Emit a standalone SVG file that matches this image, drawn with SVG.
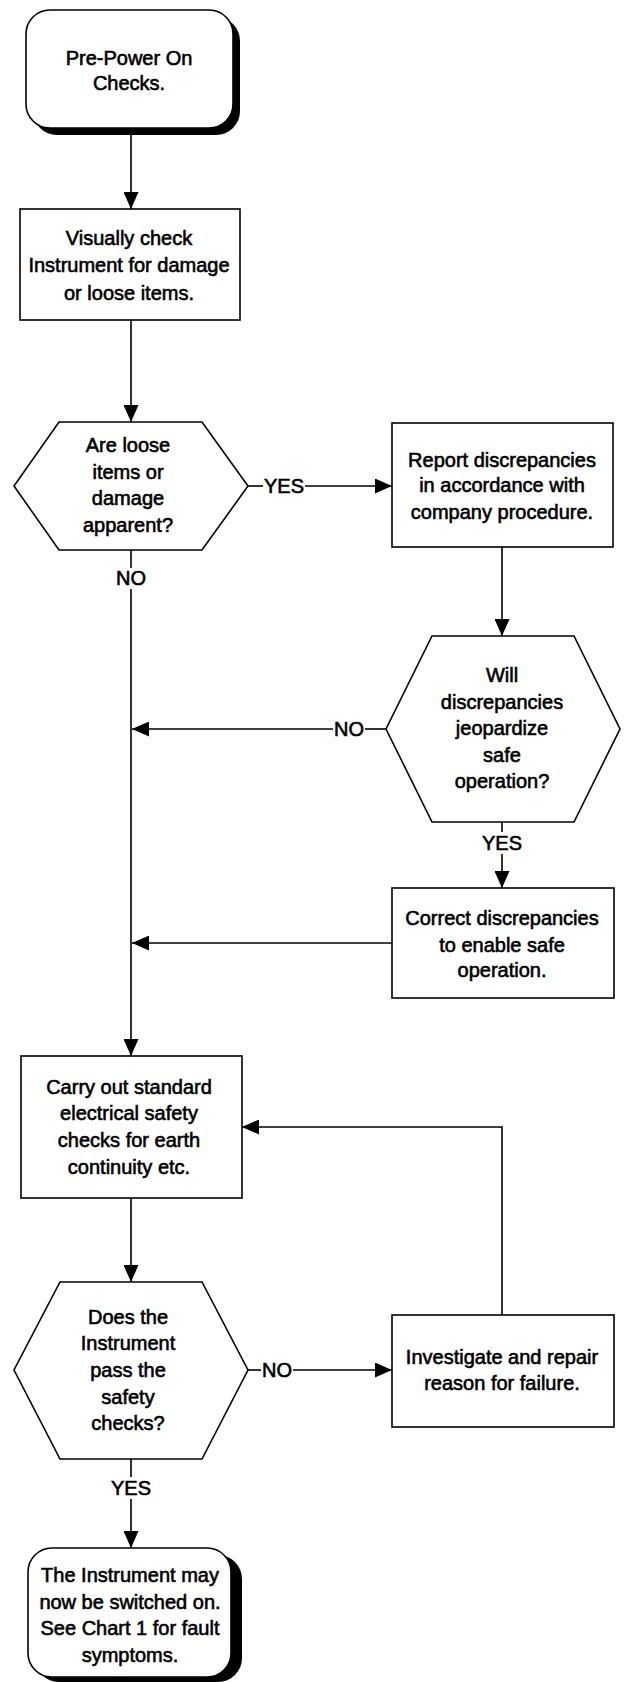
<svg xmlns="http://www.w3.org/2000/svg" width="625" height="1682" viewBox="0 0 625 1682">
<defs>
<style>
.shape{fill:#fff;stroke:#000;stroke-width:1.6}
.shadow{fill:#000}
.t{font-family:"Liberation Sans",Arial,Helvetica,sans-serif;font-size:20px;fill:#000;text-anchor:middle;stroke:#000;stroke-width:0.6}
.c{fill:none;stroke:#000;stroke-width:1.6}
</style>
<marker id="ah" viewBox="0 0 17 15" refX="17" refY="7.5" markerWidth="17" markerHeight="15" markerUnits="userSpaceOnUse" orient="auto">
<path d="M0,0 L17,7.5 L0,15 Z" fill="#000"/>
</marker>
</defs>
<rect width="625" height="1682" fill="#fff"/>

<g id="start">
<rect class="shadow" x="33" y="17" width="207" height="118" rx="24"/>
<rect class="shape" x="26" y="10" width="207" height="118" rx="24"/>
<text class="t" x="129" y="65">Pre-Power On</text>
<text class="t" x="129" y="90">Checks.</text>
</g>

<g id="visual-check">
<rect class="shape" x="20" y="209" width="220" height="111"/>
<text class="t" x="129" y="245">Visually check</text>
<text class="t" x="129" y="272">Instrument for damage</text>
<text class="t" x="129" y="300">or loose items.</text>
</g>

<g id="decision-loose">
<polygon class="shape" points="59,422 202,422 248,486 202,550 59,550 14,486"/>
<text class="t" x="128" y="452">Are loose</text>
<text class="t" x="128" y="479">items or</text>
<text class="t" x="128" y="505">damage</text>
<text class="t" x="128" y="532">apparent?</text>
</g>

<g id="report">
<rect class="shape" x="392" y="423" width="221" height="124"/>
<text class="t" x="502" y="467">Report discrepancies</text>
<text class="t" x="502" y="492">in accordance with</text>
<text class="t" x="502" y="519">company procedure.</text>
</g>

<g id="decision-jeopardize">
<polygon class="shape" points="432,636 574,636 620,729 574,822 432,822 386,729"/>
<text class="t" x="502" y="682">Will</text>
<text class="t" x="502" y="709">discrepancies</text>
<text class="t" x="502" y="735">jeopardize</text>
<text class="t" x="502" y="762">safe</text>
<text class="t" x="502" y="788">operation?</text>
</g>

<g id="correct">
<rect class="shape" x="392" y="888" width="222" height="110"/>
<text class="t" x="502" y="925">Correct discrepancies</text>
<text class="t" x="502" y="952">to enable safe</text>
<text class="t" x="502" y="977">operation.</text>
</g>

<g id="safety-checks">
<rect class="shape" x="21" y="1056" width="221" height="142"/>
<text class="t" x="129" y="1094">Carry out standard</text>
<text class="t" x="129" y="1120">electrical safety</text>
<text class="t" x="129" y="1147">checks for earth</text>
<text class="t" x="129" y="1174">continuity etc.</text>
</g>

<g id="decision-pass">
<polygon class="shape" points="60,1282 202,1282 248,1370 202,1459 60,1459 14,1370"/>
<text class="t" x="128" y="1324">Does the</text>
<text class="t" x="128" y="1350">Instrument</text>
<text class="t" x="128" y="1377">pass the</text>
<text class="t" x="128" y="1404">safety</text>
<text class="t" x="128" y="1430">checks?</text>
</g>

<g id="investigate">
<rect class="shape" x="392" y="1315" width="222" height="112"/>
<text class="t" x="502" y="1364">Investigate and repair</text>
<text class="t" x="502" y="1390">reason for failure.</text>
</g>

<g id="end">
<rect class="shadow" x="35" y="1555" width="207" height="127" rx="24"/>
<rect class="shape" x="28" y="1548" width="203" height="129" rx="24"/>
<text class="t" x="130" y="1582">The Instrument may</text>
<text class="t" x="130" y="1609">now be switched on.</text>
<text class="t" x="130" y="1635">See Chart 1 for fault</text>
<text class="t" x="130" y="1662">symptoms.</text>
</g>

<g id="connectors">
<line class="c" x1="131" y1="128" x2="131" y2="209" marker-end="url(#ah)"/>
<line class="c" x1="131" y1="320" x2="131" y2="422" marker-end="url(#ah)"/>
<line class="c" x1="248" y1="486" x2="263" y2="486"/>
<line class="c" x1="305" y1="486" x2="392" y2="486" marker-end="url(#ah)"/>
<line class="c" x1="131" y1="550" x2="131" y2="568"/>
<line class="c" x1="131" y1="589" x2="131" y2="1056" marker-end="url(#ah)"/>
<line class="c" x1="502" y1="547" x2="502" y2="636" marker-end="url(#ah)"/>
<line class="c" x1="386" y1="729" x2="365" y2="729"/>
<line class="c" x1="333" y1="729" x2="132" y2="729" marker-end="url(#ah)"/>
<line class="c" x1="502" y1="822" x2="502" y2="832"/>
<line class="c" x1="502" y1="854" x2="502" y2="888" marker-end="url(#ah)"/>
<line class="c" x1="392" y1="943" x2="132" y2="943" marker-end="url(#ah)"/>
<line class="c" x1="131" y1="1198" x2="131" y2="1282" marker-end="url(#ah)"/>
<line class="c" x1="248" y1="1370" x2="261" y2="1370"/>
<line class="c" x1="293" y1="1370" x2="392" y2="1370" marker-end="url(#ah)"/>
<polyline class="c" points="502,1315 502,1127 242,1127" marker-end="url(#ah)"/>
<line class="c" x1="131" y1="1459" x2="131" y2="1477"/>
<line class="c" x1="131" y1="1499" x2="131" y2="1548" marker-end="url(#ah)"/>
<text class="t" x="284" y="493">YES</text>
<text class="t" x="131" y="585">NO</text>
<text class="t" x="349" y="736">NO</text>
<text class="t" x="502" y="850">YES</text>
<text class="t" x="277" y="1377">NO</text>
<text class="t" x="131" y="1495">YES</text>
</g>
</svg>
